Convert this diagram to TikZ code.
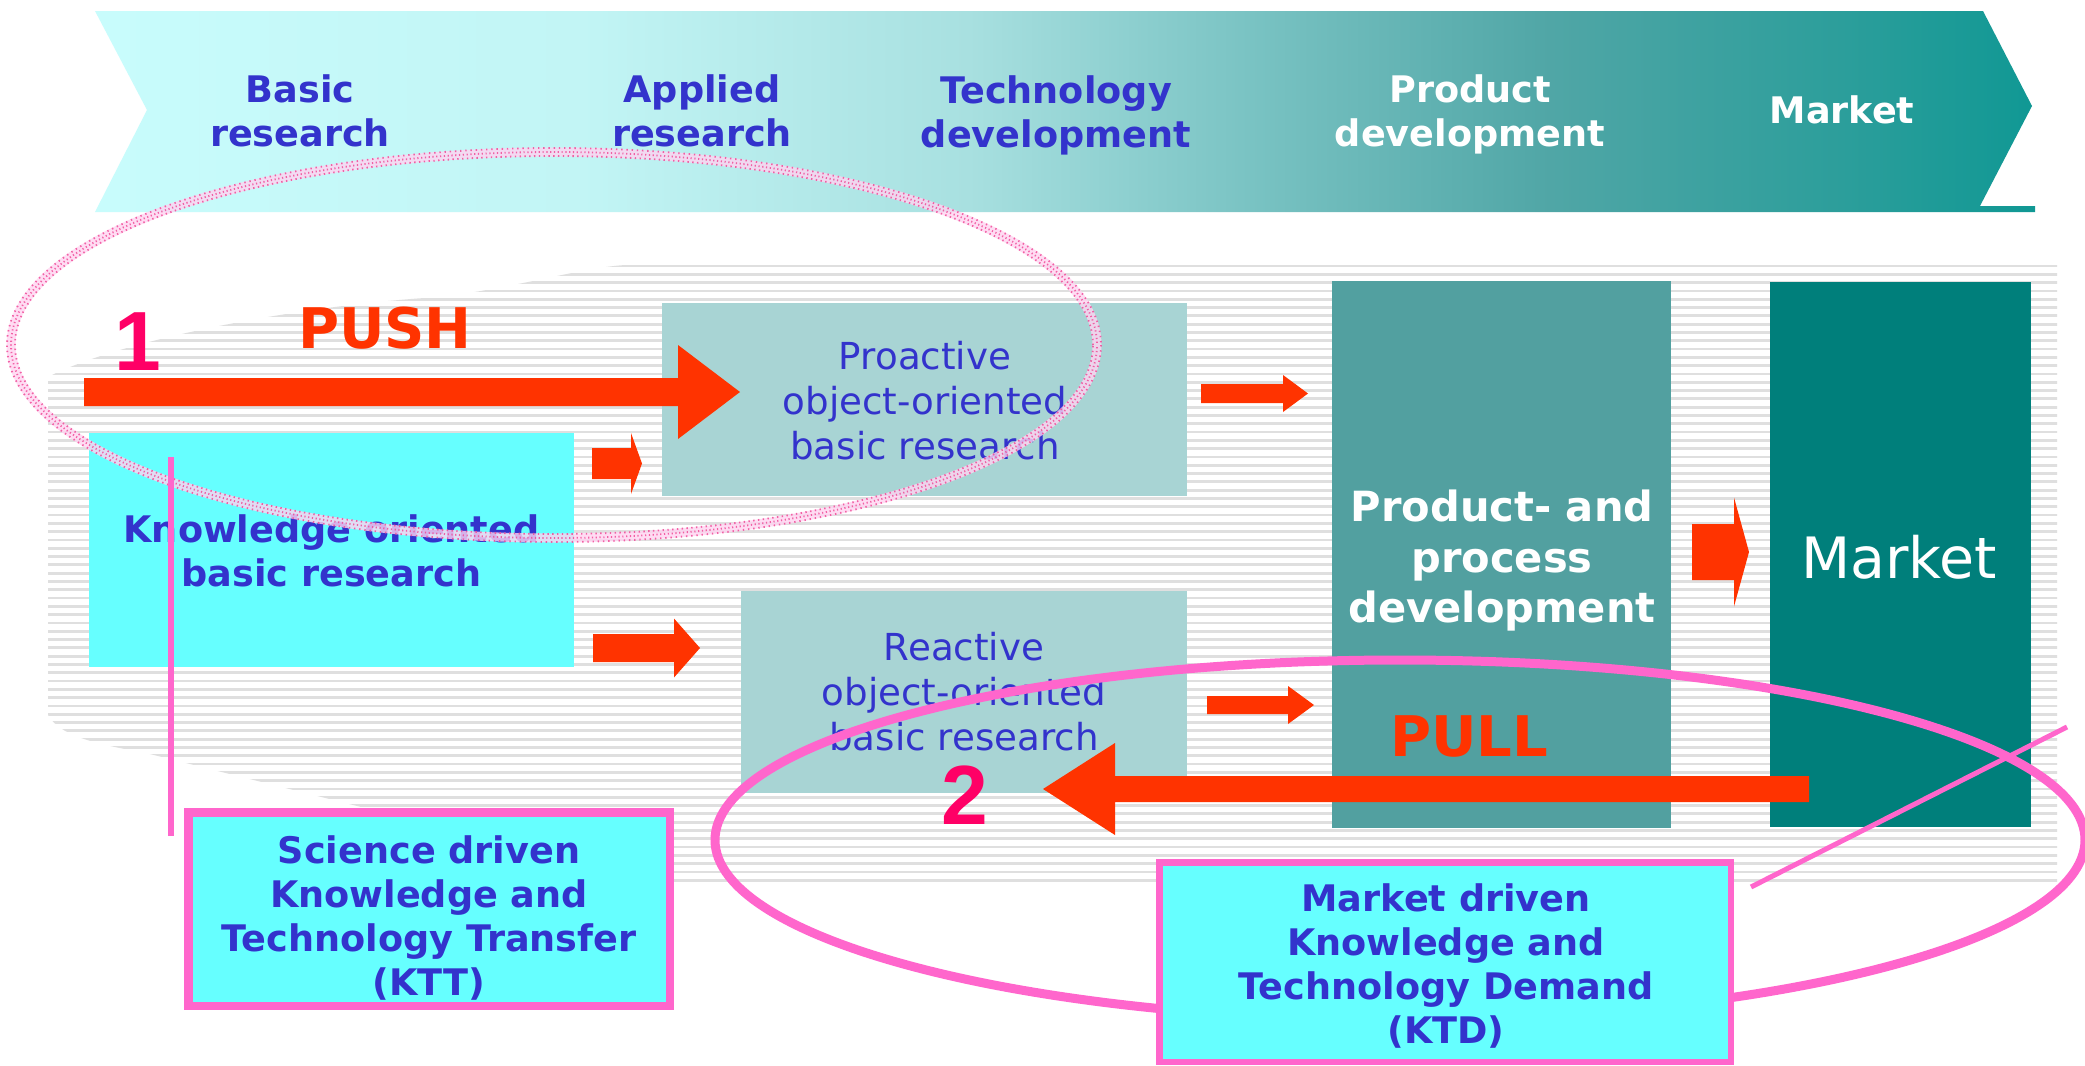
\documentclass[tikz,border=0pt]{standalone}
\usepackage{fontspec}
\setmainfont{DejaVu Sans}
\newfontfamily\arialfont{Liberation Sans}
\usetikzlibrary{calc}
\definecolor{txtblue}{HTML}{3333CC}
\definecolor{kcyan}{HTML}{66FFFF}
\definecolor{paleteal}{HTML}{A8D4D4}
\definecolor{midteal}{HTML}{52A0A0}
\definecolor{darkteal}{HTML}{007F7B}
\definecolor{arrred}{HTML}{FF3300}
\definecolor{numpink}{HTML}{FF0066}
\definecolor{linkpink}{HTML}{FF66CC}
\definecolor{dotpink}{HTML}{F04C98}
\definecolor{stripegray}{HTML}{DFDFDF}
\definecolor{bcA}{RGB}{200,252,252}
\definecolor{bcB}{RGB}{194,245,245}
\definecolor{bcC}{RGB}{168,224,224}
\definecolor{bcD}{RGB}{120,194,194}
\definecolor{bcE}{RGB}{80,166,166}
\definecolor{bcF}{RGB}{44,158,155}
\definecolor{bcG}{RGB}{16,152,148}
\pgfdeclarehorizontalshading{bannershade}{100bp}{color(0bp)=(bcA); color(25bp)=(bcA); color(37.5bp)=(bcB); color(47.5bp)=(bcC); color(55bp)=(bcD); color(62.5bp)=(bcE); color(70bp)=(bcF); color(75bp)=(bcG); color(100bp)=(bcG)}
\newcommand\fBanner{\fontsize{18.3pt}{22pt}\selectfont\bfseries}
\newcommand\fRegular{\fontsize{18.6pt}{22.5pt}\selectfont}
\newcommand\fProd{\fontsize{20.8pt}{25.3pt}\selectfont\bfseries}
\newcommand\fMarketBox{\fontsize{28.5pt}{34pt}\selectfont}
\newcommand\fBig{\fontsize{28pt}{34pt}\selectfont\bfseries}
\newcommand\fNum{\fontsize{42pt}{50pt}\selectfont\arialfont\bfseries}
% block arrow: start, tip, shaft half, head half, x offset tip->head base
\newcommand\myarrow[5]{%
  \fill[arrred] ($(#1)+(0,-#3)$) -- ($(#2)+(#5,-#3)$) -- ($(#2)+(#5,-#4)$) -- (#2)
    -- ($(#2)+(#5,#4)$) -- ($(#2)+(#5,#3)$) -- ($(#1)+(0,#3)$) -- cycle;}
\begin{document}
\begin{tikzpicture}[x=0.5pt,y=-0.5pt,
  box/.style={rectangle, inner sep=0pt, outer sep=0pt},
  lbl/.style={inner sep=0pt, outer sep=0pt, align=center},
  stripe/.style={draw=stripegray, line width=1.4pt},
  pinkline/.style={draw=linkpink, line cap=butt},
  grain/.style={draw=dotpink, line width=0.9pt, opacity=0.85}]
\useasboundingbox (0,0) rectangle (2085,1066);
\fill[white] (0,0) rectangle (2085,1066);

% striped background
\begin{scope}
  \clip (48,377) .. controls (120,340) and (300,305) .. (440,297)
        .. controls (520,287) and (580,268) .. (625,265) -- (2057,265) -- (2057,882)
        -- (660,882) -- (146,753) .. controls (90,743) and (60,735) .. (48,715) -- cycle;
  \foreach \y in {266,274.3,...,882} \draw[stripe] (40,\y) -- (2060,\y);
\end{scope}

% banner
\path[shading=bannershade] (95,11) -- (1983,11) -- (2032,106) -- (1980,206) -- (2035,206)
   -- (2035,212) -- (95,212) -- (147,110) -- cycle;
\node[lbl, font=\fBanner, text=txtblue] (bBasic) at (300,111) {Basic\\research};
\node[lbl, font=\fBanner, text=txtblue] (bApplied) at (702,111) {Applied\\research};
\node[lbl, font=\fBanner, text=txtblue] (bTech) at (1056,115.5) {Technology\\development};
\node[lbl, font=\fBanner, text=white] (bProd) at (1470,114) {Product\\development};
\node[lbl, font=\fBanner, text=white, anchor=base] (bMarket) at (1842,123) {Market};

% boxes
\node[box, fill=kcyan, minimum width=242.5pt, minimum height=117pt] (know) at (331.5,550) {};
\node[box, fill=paleteal, minimum width=262.5pt, minimum height=96.5pt] (pro) at (924.5,399.5) {};
\node[box, fill=paleteal, minimum width=223pt, minimum height=101pt] (re) at (964,692) {};
\node[box, fill=midteal, minimum width=169.5pt, minimum height=273.5pt] (prod) at (1501.5,554.5) {};
\node[box, fill=darkteal, minimum width=130.5pt, minimum height=272.5pt] (mkt) at (1900.5,554.5) {};

\node[lbl, font=\fBanner, text=txtblue] (knowT) at (331.5,551) {Knowledge oriented\\basic research};
\node[lbl, font=\fRegular, text=txtblue] (proT) at (925,401) {Proactive\\object-oriented\\basic research};
\node[lbl, font=\fRegular, text=txtblue] (reT) at (964,692) {Reactive\\object-oriented\\basic research};
\node[lbl, font=\fProd, text=white] (prodT) at (1502,560.7) {Product- and\\process\\development};
\node[lbl, font=\fMarketBox, text=white, anchor=base] (mktT) at (1899,578) {Market};

% arrows
\coordinate (pushS) at (84,392);     \coordinate (pushE) at (740,392);
\coordinate (kpS) at (592,463.5);    \coordinate (kpE) at (642,463.5);
\coordinate (krS) at (593,648);      \coordinate (krE) at (700,648);
\coordinate (pdS) at (1201,393.5);   \coordinate (pdE) at (1308,393.5);
\coordinate (rdS) at (1207,705);     \coordinate (rdE) at (1314,705);
\coordinate (dmS) at (1692,552);     \coordinate (dmE) at (1749,552);
\coordinate (pullS) at (1809,789);   \coordinate (pullE) at (1043,789);
\myarrow{pushS}{pushE}{14}{47}{-62}
\myarrow{kpS}{kpE}{15.5}{30.5}{-11}
\myarrow{krS}{krE}{14}{29.5}{-26}
\myarrow{pdS}{pdE}{9.5}{18.5}{-25}
\myarrow{rdS}{rdE}{9}{19}{-26}
\myarrow{dmS}{dmE}{28}{54.5}{-15}
\myarrow{pullS}{pullE}{13}{46}{72}

% labels
\node[lbl, font=\fNum, text=numpink, anchor=base] (one) at (138,370) {1};
\node[lbl, font=\fBig, text=arrred, anchor=base] (push) at (385,348) {PUSH};
\node[lbl, font=\fBig, text=arrred, anchor=base] (pull) at (1469,756) {PULL};
\node[lbl, font=\fNum, text=numpink, anchor=base] (two) at (965,824) {2};

% grainy dotted ellipse (push)
\draw[linkpink!28, line width=4.5pt, opacity=0.8] (554,345) ellipse [x radius=271.5pt, y radius=96.5pt];
\draw[grain, dash pattern=on 0.7pt off 1.7pt] (554,345) ellipse [x radius=269.5pt, y radius=94.5pt];
\draw[grain, dash pattern=on 0.6pt off 1.3pt, dash phase=0.8pt] (554,345) ellipse [x radius=271.5pt, y radius=96.5pt];
\draw[grain, dash pattern=on 0.7pt off 1.9pt, dash phase=1.3pt] (554,345) ellipse [x radius=273.5pt, y radius=98.5pt];

% solid ellipse (pull)
\draw[pinkline, line width=4.5pt] (1400,840) ellipse [x radius=342.5pt, y radius=90pt];

% callout lines
\coordinate (vA) at (171,457); \coordinate (vB) at (171,836);
\draw[pinkline, line width=3pt] (vA) -- (vB);
\coordinate (dA) at (1751,887); \coordinate (dB) at (2067,727);
\draw[pinkline, line width=2.5pt] (dA) -- (dB);

% KTT / KTD boxes
\node[box, fill=kcyan, draw=linkpink, line width=4.25pt, minimum width=240.75pt, minimum height=96.75pt] (ktt) at (429,909) {};
\node[lbl, font=\fBanner, text=txtblue] (kttT) at (429,917.5) {Science driven\\Knowledge and\\Technology Transfer\\(KTT)};
\node[box, fill=kcyan, draw=linkpink, line width=3.25pt, minimum width=285.75pt, minimum height=99.75pt] (ktd) at (1445,962) {};
\node[lbl, font=\fBanner, text=txtblue] (ktdT) at (1446,965.5) {Market driven\\Knowledge and\\Technology Demand\\(KTD)};
\end{tikzpicture}
\end{document}
